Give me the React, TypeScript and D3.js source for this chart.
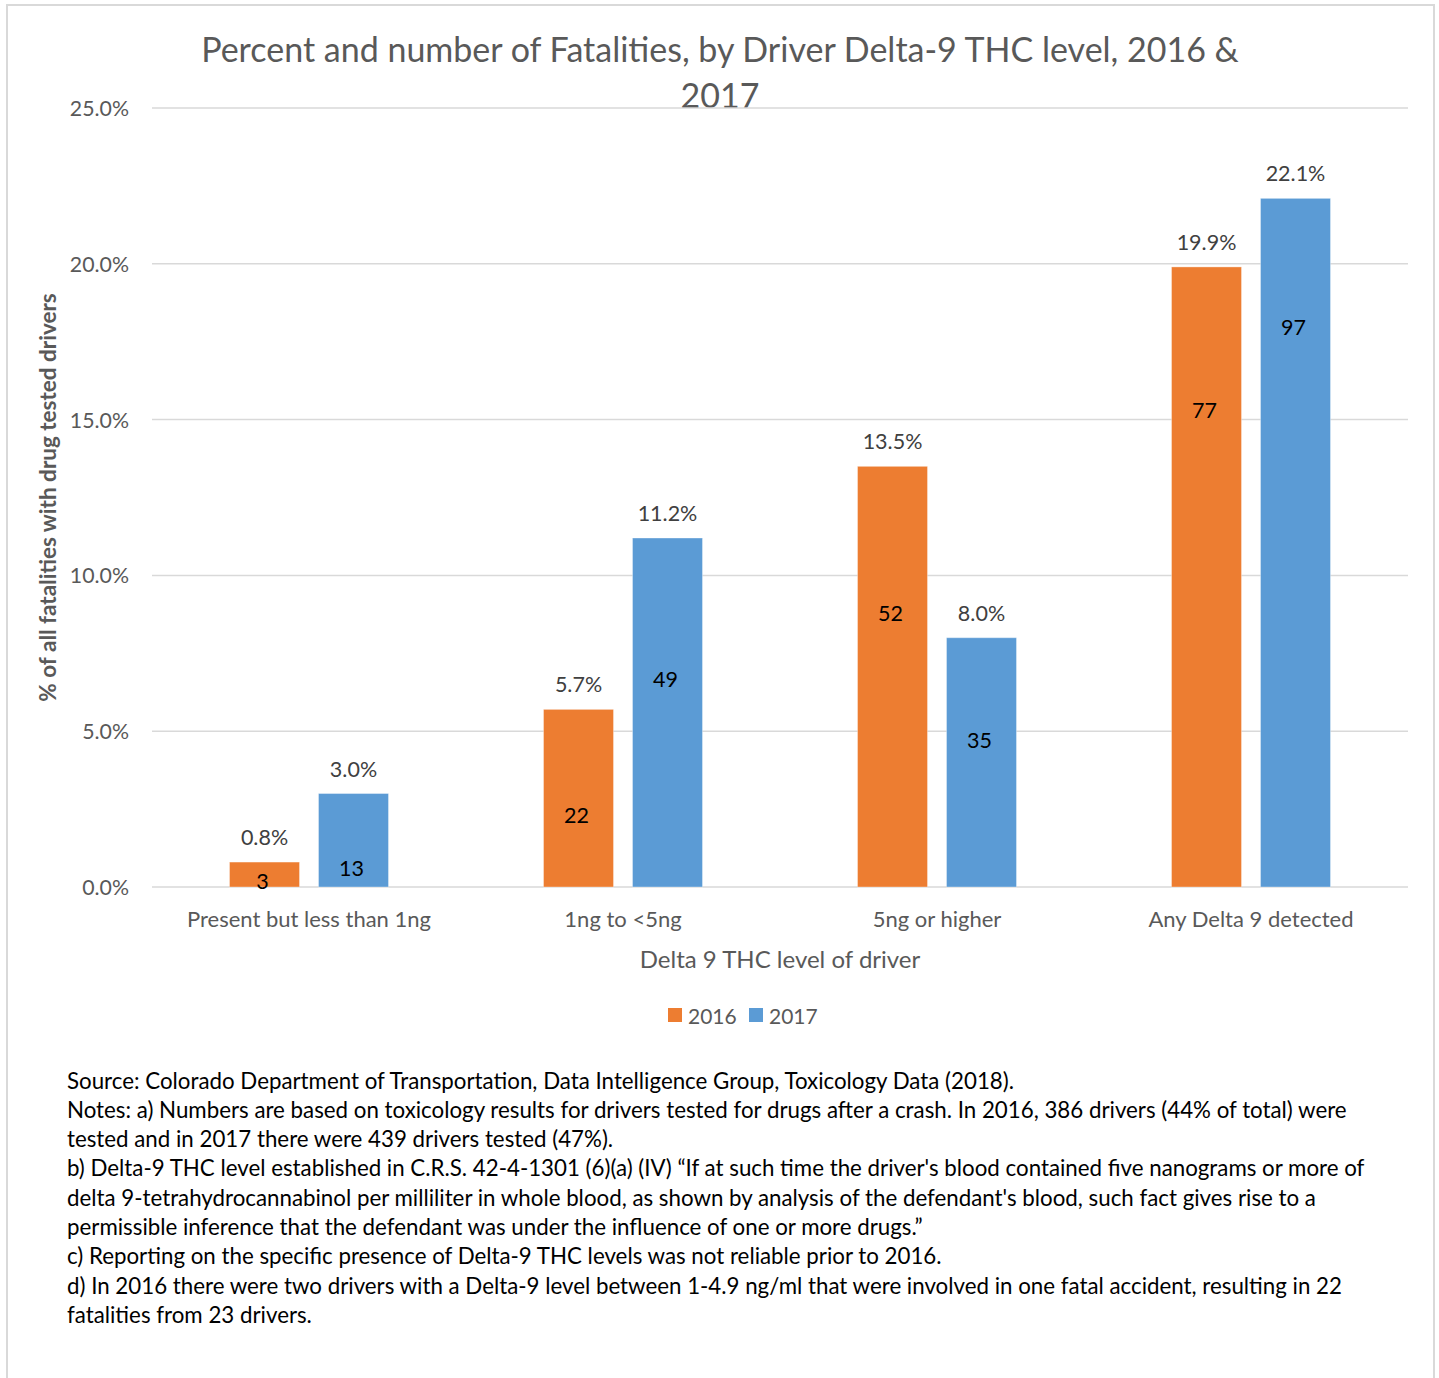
import React from "react";
import * as d3 from "d3";

const categories = ["Present but less than 1ng", "1ng to <5ng", "5ng or higher", "Any Delta 9 detected"];
const seriesNames = ["2016", "2017"];
const pct2016 = [0.8, 5.7, 13.5, 19.9];
const pct2017 = [3.0, 11.2, 8.0, 22.1];
const count2016 = [3, 22, 52, 77];
const count2017 = [13, 49, 35, 97];
// level (in % units) where each count label sits
const countAt2016 = [0.19, 2.31, 8.79, 15.31];
const countAt2017 = [0.61, 6.67, 4.72, 17.97];
const yTicks = [0, 5, 10, 15, 20, 25];
const colors = ["#ED7D31", "#5B9BD5"];

const titleLines = ["Percent and number of Fatalities, by Driver Delta-9 THC level, 2016 &", "2017"];
const xTitle = "Delta 9 THC level of driver";
const yTitle = "% of all fatalities with drug tested drivers";
const notes = [
  "Source: Colorado Department of Transportation, Data Intelligence Group, Toxicology Data (2018).",
  "Notes: a) Numbers are based on toxicology results for drivers tested for drugs after a crash. In 2016, 386 drivers (44% of total) were",
  "tested and in 2017 there were 439 drivers tested (47%).",
  "b) Delta-9 THC level established in C.R.S. 42-4-1301 (6)(a) (IV) \u201cIf at such time the driver's blood contained five nanograms or more of",
  "delta 9-tetrahydrocannabinol per milliliter in whole blood, as shown by analysis of the defendant's blood, such fact gives rise to a",
  "permissible inference that the defendant was under the influence of one or more drugs.\u201d",
  "c) Reporting on the specific presence of Delta-9 THC levels was not reliable prior to 2016.",
  "d) In 2016 there were two drivers with a Delta-9 level between 1-4.9 ng/ml that were involved in one fatal accident, resulting in 22",
  "fatalities from 23 drivers.",
];

const W = 1439;
const H = 1378;
const FONT = "Lato, 'Open Sans', sans-serif";
const left = 152, right = 1408, top = 108, bottom = 887;

export default function App() {
  const x = d3.scaleBand<string>().domain(categories).range([left, right]).padding(0);
  const inner = d3.scaleBand<string>().domain(seriesNames).range([0, x.bandwidth()]).paddingInner(0.2135).paddingOuter(0.871);
  const y = d3.scaleLinear().domain([0, 25]).range([bottom, top]);

  const series = [
    { name: seriesNames[0], pct: pct2016, cnt: count2016, at: countAt2016, color: colors[0] },
    { name: seriesNames[1], pct: pct2017, cnt: count2017, at: countAt2017, color: colors[1] },
  ];

  return (
    <svg width={W} height={H} style={{ position: "absolute", left: 0, top: 0, background: "#fff" }} fontFamily={FONT}>
      <rect x={0} y={0} width={W} height={H} fill="#fff" />
      {/* frame */}
      <path d={`M7,${H} V5 H1434 V${H}`} fill="none" stroke="#d9d9d9" strokeWidth={2} />

      {/* title */}
      {titleLines.map((t, i) => (
        <text key={i} x={720} y={48 + i * 46} textAnchor="middle" dominantBaseline="central" fontSize={34} fill="#595959">{t}</text>
      ))}

      {/* gridlines */}
      {yTicks.map((t) => (
        <g key={t}>
          <line x1={left} x2={right} y1={y(t)} y2={y(t)} stroke="#d9d9d9" strokeWidth={1.5} />
          <text x={129} y={y(t)} textAnchor="end" dominantBaseline="central" fontSize={21.3} fill="#595959">{t.toFixed(1)}%</text>
        </g>
      ))}

      {/* bars */}
      {series.map((s) => (
        <g key={s.name}>
          {categories.map((c, i) => {
            const bx = (x(c) as number) + (inner(s.name) as number);
            const bw = inner.bandwidth();
            const by = y(s.pct[i]);
            const cx = bx + bw / 2;
            return (
              <g key={c}>
                <rect x={bx} y={by} width={bw} height={bottom - by} fill={s.color} stroke="#ffffff" strokeOpacity={0.35} strokeWidth={1} />
                <text x={cx} y={by - 25} textAnchor="middle" dominantBaseline="central" fontSize={21.5} fill="#404040">{s.pct[i].toFixed(1)}%</text>
                <text x={cx - 2} y={y(s.at[i])} textAnchor="middle" dominantBaseline="central" fontSize={21.5} fill="#000">{s.cnt[i]}</text>
              </g>
            );
          })}
        </g>
      ))}

      {/* category labels */}
      {categories.map((c) => (
        <text key={c} x={(x(c) as number) + x.bandwidth() / 2} y={918} textAnchor="middle" dominantBaseline="central" fontSize={22} fill="#595959">{c}</text>
      ))}

      {/* axis titles */}
      <text x={(left + right) / 2} y={958} textAnchor="middle" dominantBaseline="central" fontSize={24} fill="#595959">{xTitle}</text>
      <text transform={`translate(47,${(top + bottom) / 2}) rotate(-90)`} textAnchor="middle" dominantBaseline="central" fontSize={22.5} fontWeight="bold" fill="#595959">{yTitle}</text>

      {/* legend */}
      {seriesNames.map((n, i) => (
        <g key={n} transform={`translate(${668 + i * 81},1015)`}>
          <rect x={0} y={-7} width={14} height={14} fill={colors[i]} />
          <text x={20} y={0} dominantBaseline="central" fontSize={21} fill="#595959">{n}</text>
        </g>
      ))}

      {/* notes */}
      {notes.map((t, i) => (
        <text key={i} x={67} y={1080 + i * 29.3} dominantBaseline="central" fontSize={22.3} fill="#000">{t}</text>
      ))}
    </svg>
  );
}
